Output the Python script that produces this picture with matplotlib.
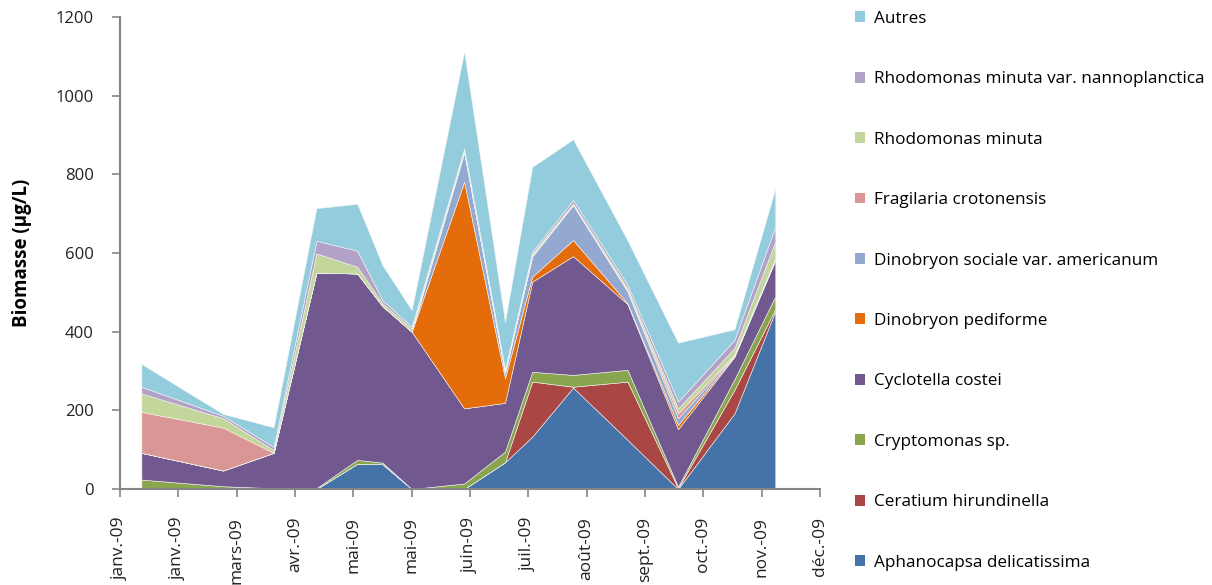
import matplotlib
matplotlib.use("Agg")
import matplotlib.pyplot as plt
from matplotlib.patches import Patch
import datetime as dt

plt.rcParams['font.family'] = ['Open Sans', 'DejaVu Sans']

dates = ["2009-01-12", "2009-02-23", "2009-03-21", "2009-04-12", "2009-05-03",
         "2009-05-16", "2009-05-31", "2009-06-27", "2009-07-18", "2009-08-01",
         "2009-08-22", "2009-09-19", "2009-10-15", "2009-11-13", "2009-12-04"]

aphanocapsa = [0, 0, 0, 0, 64, 63, 0, 0, 68, 133, 258, 125, 0, 192, 452]
ceratium = [0, 0, 0, 0, 0, 0, 0, 0, 0, 140, 2, 148, 2, 60, 5]
cryptomonas = [24, 7, 2, 2, 10, 4, 0, 14, 27, 25, 30, 30, 4, 27, 33]
cyclotella = [68, 40, 90, 548, 474, 398, 400, 191, 124, 229, 302, 167, 146, 57, 92]
dino_pediforme = [0, 0, 0, 0, 0, 0, 0, 576, 63, 13, 41, 2, 11, 2, 0]
dino_sociale = [0, 0, 0, 0, 0, 0, 0, 74, 13, 51, 89, 30, 17, 2, 2]
fragilaria = [104, 109, 0, 0, 0, 0, 0, 3, 2, 2, 1, 2, 12, 2, 2]
rhodo_minuta = [47, 24, 7, 49, 17, 7, 8, 3, 3, 5, 3, 6, 13, 16, 43]
rhodo_nanno = [17, 6, 8, 32, 41, 8, 5, 5, 5, 5, 9, 9, 17, 21, 38]
autres = [58, 5, 50, 83, 119, 89, 42, 246, 120, 216, 154, 113, 150, 27, 97]

series_names = ["Aphanocapsa delicatissima", "Ceratium hirundinella", "Cryptomonas sp.",
                "Cyclotella costei", "Dinobryon pediforme", "Dinobryon sociale var. americanum",
                "Fragilaria crotonensis", "Rhodomonas minuta",
                "Rhodomonas minuta var. nannoplanctica", "Autres"]
colors = ["#4572A7", "#AA4643", "#89A54E", "#71588F", "#E46C0A", "#93A9CF",
          "#D99694", "#C3D69B", "#B3A2C7", "#93CDDD"]

tick_labels = ["janv.-09", "janv.-09", "mars-09", "avr.-09", "mai-09", "mai-09",
               "juin-09", "juil.-09", "août-09", "sept.-09", "oct.-09", "nov.-09", "déc.-09"]

x = [dt.datetime.strptime(d, "%Y-%m-%d") for d in dates]
data = [aphanocapsa, ceratium, cryptomonas, cyclotella, dino_pediforme, dino_sociale,
        fragilaria, rhodo_minuta, rhodo_nanno, autres]

fig = plt.figure(figsize=(12.12, 5.85), dpi=100)
ax = fig.add_axes([120/1212, 1 - 489/585, 700/1212, 472/585])

ax.stackplot(x, *data, colors=colors, labels=series_names, linewidth=0.4, edgecolor='#f4f4f4')

start = dt.datetime(2009, 1, 1)
ticks = [start + dt.timedelta(days=30*k) for k in range(13)]
ax.set_xlim(ticks[0], ticks[-1])
ax.set_xticks(ticks)
ax.set_xticklabels(tick_labels, rotation=90, fontsize=12.5, color='#222222')
ax.set_ylim(0, 1200)
ax.set_yticks(range(0, 1201, 200))
ax.tick_params(axis='y', labelsize=12, colors='#868686', length=6, width=1.2, labelcolor='#222222', pad=13)
ax.tick_params(axis='x', colors='#868686', length=6, width=1.2, labelcolor='#222222', pad=14)

for s in ['top', 'right']:
    ax.spines[s].set_visible(False)
for s in ['left', 'bottom']:
    ax.spines[s].set_color('#868686')
    ax.spines[s].set_linewidth(1.5)

ax.set_ylabel("Biomasse (µg/L)", fontsize=13.5, fontweight='bold', labelpad=17)

handles = [Patch(facecolor=c, edgecolor='none') for c in colors]
leg = fig.legend(handles[::-1], series_names[::-1], loc='upper left',
                 bbox_to_anchor=(848/1212, 1 - 4/585), frameon=False,
                 fontsize=12.3, handlelength=0.6, handleheight=0.6,
                 handletextpad=0.5, labelspacing=2.6, borderaxespad=0)

fig.savefig("out.png", dpi=100)
